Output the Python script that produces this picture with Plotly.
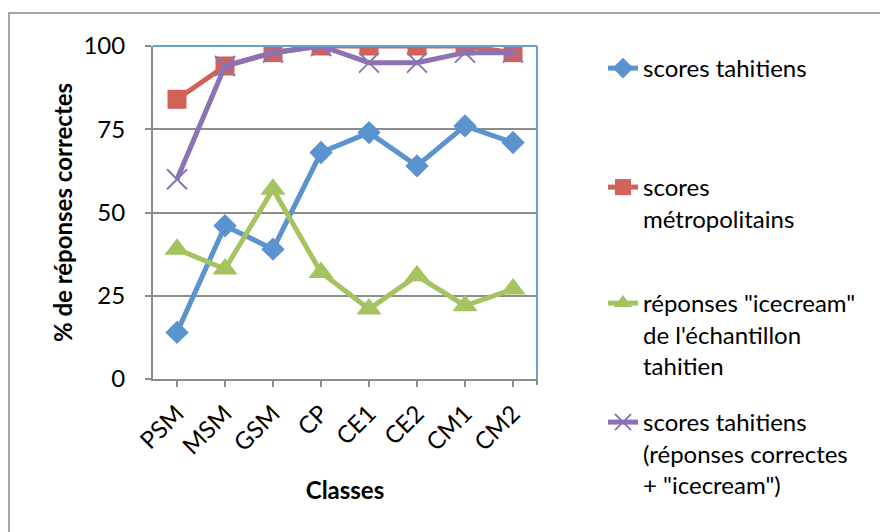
import plotly.graph_objects as go

classes = ["PSM", "MSM", "GSM", "CP", "CE1", "CE2", "CM1", "CM2"]
scores_tahitiens = [14, 46, 39, 68, 74, 64, 76, 71]
scores_metropolitains = [84, 94, 98, 100, 100, 100, 100, 98]
reponses_icecream = [39, 33, 57, 32, 21, 31, 22, 27]
scores_tahitiens_ice = [60, 94, 98, 100, 95, 95, 98, 98]
y_ticks = [0, 25, 50, 75, 100]

names = [
    "scores tahitiens",
    "scores<br>métropolitains",
    "réponses \"icecream\"<br>de l'échantillon<br>tahitien",
    "scores tahitiens<br>(réponses correctes<br>+ \"icecream\")",
]

FONT = "Lato"
FS = 24
W, H = 888, 532
OFF = 8  # page body margin
# target plot area in screenshot pixels: x 153..537, y 46..379
L, T = 153 - OFF, 46 - OFF
PW, PH = 384, 333
R = W - L - PW
B = H - T - PH

def px_x(x):
    return (x - OFF - L) / PW

def px_y(y):
    return (T + PH - (y - OFF)) / PH

fig = go.Figure()
fig.add_trace(go.Scatter(
    x=classes, y=scores_tahitiens, mode="lines+markers", name=names[0],
    line=dict(color="#5B93CE", width=5),
    marker=dict(symbol="diamond", size=18, color="#5B93CE"),
    legend="legend"))
fig.add_trace(go.Scatter(
    x=classes, y=scores_metropolitains, mode="lines+markers", name=names[1],
    line=dict(color="#D0625A", width=5),
    marker=dict(symbol="square", size=19, color="#D0625A"),
    legend="legend2"))
fig.add_trace(go.Scatter(
    x=classes, y=reponses_icecream, mode="lines+markers", name=names[2],
    line=dict(color="#A6C362", width=5),
    marker=dict(symbol="triangle-up", size=22, color="#A6C362"),
    legend="legend3"))
fig.add_trace(go.Scatter(
    x=classes, y=scores_tahitiens_ice, mode="lines+markers", name=names[3],
    line=dict(color="#8C72B3", width=5),
    marker=dict(symbol="x-thin-open", size=20, color="#8C72B3",
                line=dict(color="#8C72B3", width=2)),
    legend="legend4"))

leg_common = dict(font=dict(family=FONT, size=FS, color="#000000"),
                  bgcolor="rgba(0,0,0,0)", xanchor="left", yanchor="top",
                  valign="top", x=px_x(603))
first_lines = [68, 187, 303, 422]

layout_legends = {}
for i, yl in enumerate(first_lines):
    key = "legend" if i == 0 else f"legend{i+1}"
    layout_legends[key] = dict(leg_common, y=px_y(yl - 22))

gray = "#8C8C8C"
fig.update_layout(
    width=W, height=H,
    margin=dict(l=L, r=R, t=T, b=B, autoexpand=False),
    paper_bgcolor="white", plot_bgcolor="white",
    font=dict(family=FONT, size=FS, color="#000000"),
    showlegend=True,
    **layout_legends,
    xaxis=dict(
        type="category", range=[-0.5, 7.5], automargin=False,
        showgrid=False, showline=True, linecolor=gray, linewidth=2,
        ticks="outside", ticklen=6, tickwidth=2, tickcolor=gray,
        tickangle=-45, ticklabelstandoff=3,
        tickfont=dict(family=FONT, size=FS),
        title=dict(text="<b>Classes</b>", font=dict(family=FONT, size=FS), standoff=24),
    ),
    yaxis=dict(
        range=[0, 100], tickvals=y_ticks, automargin=False,
        showgrid=True, gridcolor=gray, gridwidth=2,
        showline=True, linecolor=gray, linewidth=2,
        ticks="outside", ticklen=6, tickwidth=2, tickcolor=gray,
        ticklabelstandoff=15, zeroline=False,
        tickfont=dict(family=FONT, size=FS),
        title=dict(text="<b>% de réponses correctes</b>", font=dict(family=FONT, size=FS), standoff=4),
    ),
    shapes=[
        dict(type="line", xref="paper", yref="paper", x0=0, x1=1, y0=1, y1=1,
             line=dict(color="#6A9FD6", width=2), layer="above"),
        dict(type="line", xref="paper", yref="paper", x0=1, x1=1, y0=0, y1=1,
             line=dict(color="#6A9FD6", width=2), layer="above"),
        dict(type="line", xref="paper", yref="paper", xsizemode="pixel", ysizemode="pixel",
             xanchor=1, yanchor=0, x0=0, x1=0, y0=0, y1=-6,
             line=dict(color=gray, width=2)),
        dict(type="rect", xref="paper", yref="paper",
             x0=px_x(9), x1=px_x(W + 40), y0=px_y(13), y1=px_y(H + 40),
             line=dict(color="#A6A6A6", width=2), fillcolor="rgba(0,0,0,0)", layer="below"),
    ],
)

fig.write_html("out.html")
